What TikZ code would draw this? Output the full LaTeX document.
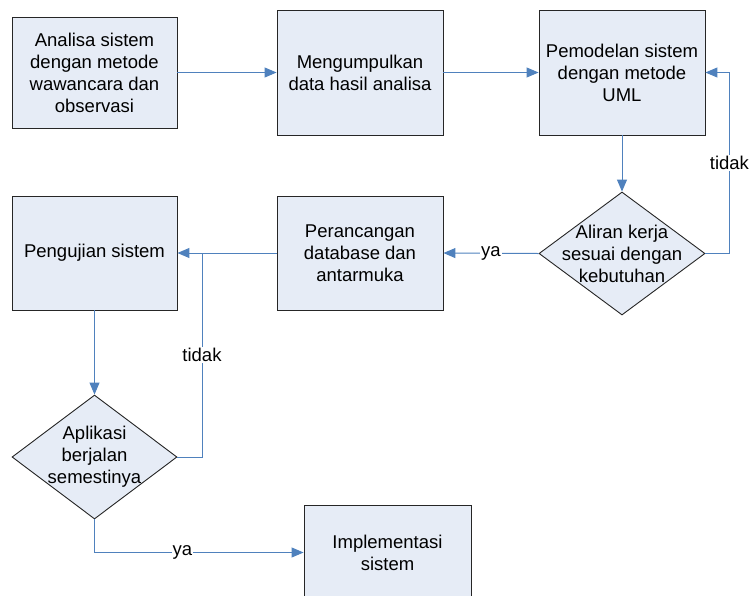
\documentclass[tikz,border=0pt]{standalone}
\usepackage{fontspec}
\setmainfont{Liberation Sans}
\usetikzlibrary{arrows.meta,shapes.geometric}
\definecolor{boxfill}{HTML}{E6ECF6}
\definecolor{flow}{HTML}{4F81BD}
\begin{document}
\begin{tikzpicture}[x=1pt,y=-1pt,
  txt/.style={font=\fontsize{18.5}{22}\selectfont, align=center},
  stepbox/.style={txt, draw=black!85, fill=boxfill, line width=0.9pt, inner sep=0pt},
  decision/.style={diamond, draw=black!85, fill=boxfill, line width=0.9pt, inner sep=0pt},
  flowline/.style={draw=flow, line width=1pt, -{Triangle[length=12pt,width=10pt]}},
  joinline/.style={draw=flow, line width=1pt},
  lbl/.style={txt, fill=white, inner sep=1pt}]
\useasboundingbox (0,0) rectangle (750,595);
\clip (0,0) rectangle (750,595);

% process steps
\node[stepbox, minimum width=165pt, minimum height=111pt] (b1) at (94.5,72.5)
  {Analisa sistem\\dengan metode\\wawancara dan\\observasi};
\node[stepbox, minimum width=166pt, minimum height=125pt] (b2) at (360,72.5)
  {Mengumpulkan\\data hasil analisa};
\node[stepbox, minimum width=166pt, minimum height=125pt] (b3) at (622,72.5)
  {Pemodelan sistem\\dengan metode\\UML};
\node[stepbox, minimum width=166pt, minimum height=114pt] (b5) at (360,253)
  {Perancangan\\database dan\\antarmuka};
\node[stepbox, minimum width=165pt, minimum height=114pt] (b6) at (94.5,253)
  {Pengujian sistem};
\node[stepbox, minimum width=167pt, minimum height=95pt] (b8) at (387.5,552.5)
  {Implementasi\\sistem};

% decisions
\node[decision, minimum width=166pt, minimum height=123pt] (d1) at (622,253.5) {};
\node[txt] (d1t) at (d1) {Aliran kerja\\sesuai dengan\\kebutuhan};
\node[decision, minimum width=165pt, minimum height=124pt] (d2) at (94.5,457) {};
\node[txt] (d2t) at (d2) {Aplikasi\\berjalan\\semestinya};

% connectors
\draw[flowline] (b1.east) -- (b2.west);
\draw[flowline] (b2.east) -- (b3.west);
\draw[flowline] (b3.south) -- (d1.north);
\draw[flowline] (d1.east) -- ++(24,0) |- (b3.east) node[lbl, pos=0.25] {tidak};
\draw[flowline] (d1.west) -- (b5.east) node[lbl, midway] {ya};
\draw[flowline] (b5.west) -- (b6.east);
\coordinate (j) at (202,253);
\draw[joinline] (d2.east) -| (j) node[lbl, pos=0.75] {tidak};
\draw[flowline] (d2.south) |- (b8.west) node[lbl, pos=0.71] {ya};
\draw[flowline] (b6.south) -- (d2.north);
\end{tikzpicture}
\end{document}
